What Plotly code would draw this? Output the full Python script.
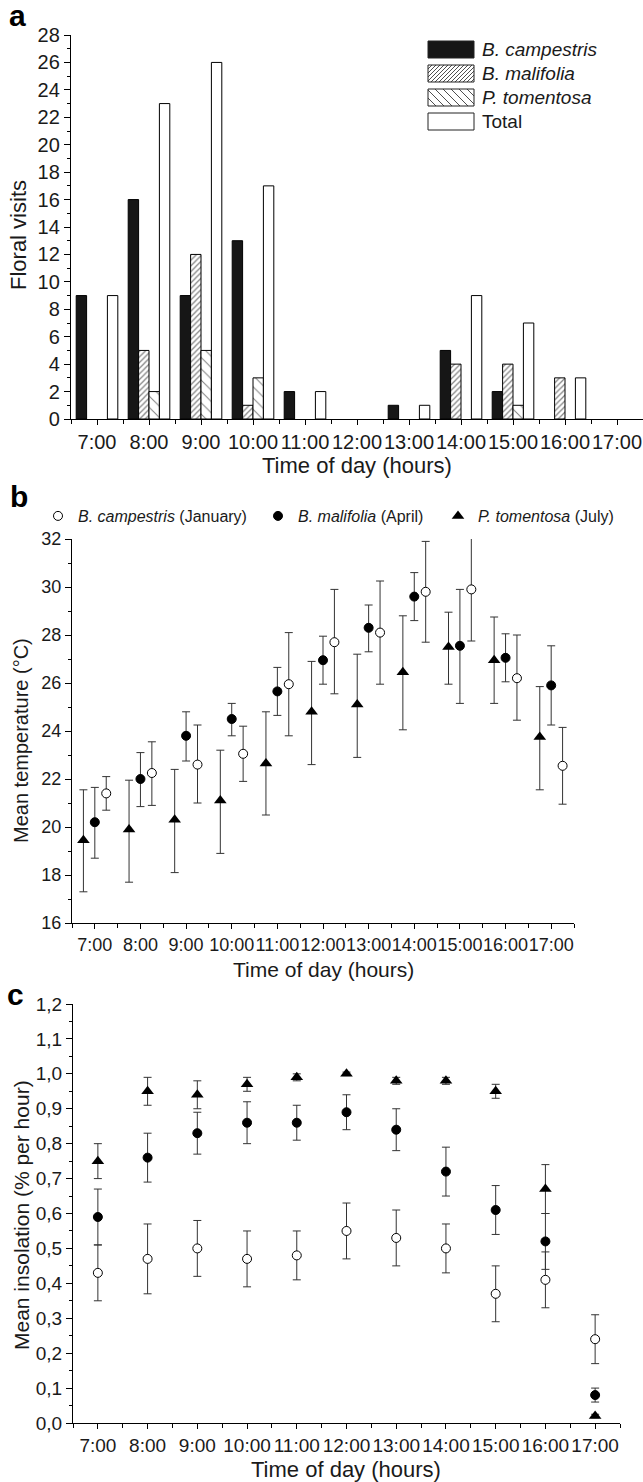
import plotly.graph_objects as go
from plotly.subplots import make_subplots

FIG_W, FIG_H = 643, 1482
FONT = "Liberation Sans, Arial, sans-serif"

hours = list(range(7, 18))
hour_labels = [f"{h}:00" for h in hours]

# a: floral visits per hour
campestris_visits = [9, 16, 9, 13, 2, 0, 1, 5, 2, 0, 0]
malifolia_visits = [0, 5, 12, 1, 0, 0, 0, 4, 4, 3, 0]
tomentosa_visits = [0, 2, 5, 3, 0, 0, 0, 0, 1, 0, 0]
total_visits = [9, 23, 26, 17, 2, 0, 1, 9, 7, 3, 0]

# b: mean temperature (upper / lower ends of the bars)
campestris_temp = [21.4, 22.25, 22.6, 23.05, 25.95, 27.7, 28.1, 29.8, 29.9, 26.2, 22.55]
campestris_temp_hi = [22.1, 23.55, 24.25, 24.2, 28.1, 29.9, 30.25, 31.9, 32.05, 28.0, 24.15]
campestris_temp_lo = [20.7, 20.9, 21.0, 21.9, 23.8, 25.55, 25.95, 27.7, 27.75, 24.45, 20.95]

malifolia_temp = [20.2, 22.0, 23.8, 24.5, 25.65, 26.95, 28.3, 29.6, 27.55, 27.05, 25.9]
malifolia_temp_hi = [21.65, 23.1, 24.8, 25.15, 26.65, 27.95, 29.25, 30.6, 29.9, 28.05, 27.55]
malifolia_temp_lo = [18.7, 20.85, 22.75, 23.8, 24.65, 25.95, 27.3, 28.6, 25.15, 26.05, 24.25]

tomentosa_temp = [19.45, 19.9, 20.3, 21.1, 22.65, 24.8, 25.1, 26.45, 27.5, 26.95, 23.75]
tomentosa_temp_hi = [21.55, 21.95, 22.4, 23.2, 24.8, 26.9, 27.2, 28.8, 28.95, 28.75, 25.85]
tomentosa_temp_lo = [17.3, 17.7, 18.1, 18.9, 20.5, 22.6, 22.9, 24.05, 25.95, 25.15, 21.55]

# c: mean insolation
campestris_ins = [0.43, 0.47, 0.50, 0.47, 0.48, 0.55, 0.53, 0.50, 0.37, 0.41, 0.24]
campestris_ins_err = [0.08, 0.10, 0.08, 0.08, 0.07, 0.08, 0.08, 0.07, 0.08, 0.08, 0.07]
malifolia_ins = [0.59, 0.76, 0.83, 0.86, 0.86, 0.89, 0.84, 0.72, 0.61, 0.52, 0.08]
malifolia_ins_err = [0.08, 0.07, 0.06, 0.06, 0.05, 0.05, 0.06, 0.07, 0.07, 0.08, 0.02]
tomentosa_ins = [0.75, 0.95, 0.94, 0.97, 0.99, 1.00, 0.98, 0.98, 0.95, 0.67, 0.02]
tomentosa_ins_err = [0.05, 0.04, 0.04, 0.02, 0.01, 0.005, 0.01, 0.01, 0.02, 0.07, 0.005]


def px_x(x):
    return x / FIG_W


def px_y(y):
    return 1 - y / FIG_H


def _nonzero(values):
    # empty hours get no bar at all (avoids outline stubs on the axis)
    return [v if v else None for v in values]


def _err(values, hi, lo):
    return dict(type="data", symmetric=False,
                array=[h - v for v, h in zip(values, hi)],
                arrayminus=[v - l for v, l in zip(values, lo)],
                color="#333333", thickness=1, width=4)


def _sym_err(err):
    return dict(type="data", array=err, color="#333333", thickness=1, width=4)


def _hatch_path(x0, y0, x1, y1, spacing, direction):
    # diagonal hatch lines inside a pixel box, returned as a paper-coord svg path
    parts = []
    if direction == "/":
        c = x0 + y0 + spacing
        while c < x1 + y1:
            xa, xb = max(x0, c - y1), min(x1, c - y0)
            parts.append(f"M{px_x(xa)},{px_y(c - xa)} L{px_x(xb)},{px_y(c - xb)}")
            c += spacing
    else:
        c = x0 - y1 + spacing
        while c < x1 - y0:
            xa, xb = max(x0, c + y0), min(x1, c + y1)
            parts.append(f"M{px_x(xa)},{px_y(xa - c)} L{px_x(xb)},{px_y(xb - c)}")
            c += spacing
    return " ".join(parts)


MARKERS = {
    "campestris": dict(symbol="circle", size=9, color="white", line=dict(color="black", width=1)),
    "malifolia": dict(symbol="circle", size=9, color="black", line=dict(color="black", width=1)),
    "tomentosa": dict(symbol="triangle-up", size=11, color="black", line=dict(color="black", width=0)),
}

fig = make_subplots(rows=3, cols=1)

# ---- a: bars
bar_line = dict(color="black", width=1)
fig.add_trace(go.Bar(x=hours, y=_nonzero(campestris_visits), name="B. campestris",
                     marker=dict(color="#161616", line=bar_line), showlegend=False), row=1, col=1)
fig.add_trace(go.Bar(x=hours, y=_nonzero(malifolia_visits), name="B. malifolia",
                     marker=dict(color="white", line=bar_line,
                                 pattern=dict(shape="/", fgcolor="black", bgcolor="white",
                                              size=4, solidity=0.3)),
                     showlegend=False), row=1, col=1)
fig.add_trace(go.Bar(x=hours, y=_nonzero(tomentosa_visits), name="P. tomentosa",
                     marker=dict(color="white", line=bar_line,
                                 pattern=dict(shape="\\", fgcolor="black", bgcolor="white",
                                              size=8, solidity=0.12)),
                     showlegend=False), row=1, col=1)
fig.add_trace(go.Bar(x=hours, y=_nonzero(total_visits), name="Total",
                     marker=dict(color="white", line=bar_line), showlegend=False), row=1, col=1)

# legend of panel a, drawn as wide swatches like the original
legend_a = [
    ("<i>B. campestris</i>", "#161616", None, 0),
    ("<i>B. malifolia</i>", "white", "/", 4),
    ("<i>P. tomentosa</i>", "white", "\\", 8),
    ("Total", "white", None, 0),
]
for row, (label, fill, hatch, spacing) in enumerate(legend_a):
    cy = 49.5 + 24 * row
    bx0, bx1, by0, by1 = 428, 474, cy - 8.5, cy + 8.5
    fig.add_shape(type="rect", xref="paper", yref="paper",
                  x0=px_x(bx0), x1=px_x(bx1), y0=px_y(by1), y1=px_y(by0),
                  fillcolor=fill, line=dict(color="#222222", width=1))
    if hatch:
        fig.add_shape(type="path", xref="paper", yref="paper",
                      path=_hatch_path(bx0, by0, bx1, by1, spacing, hatch),
                      line=dict(color="#222222", width=0.8))
    fig.add_annotation(text=label, x=px_x(480), y=px_y(cy), xref="paper", yref="paper",
                       showarrow=False, xanchor="left", yanchor="middle",
                       font=dict(size=19, color="#1a1a1a", family=FONT))

# ---- b: temperature, points offset around each hour
temp_series = [
    ("<i>B. campestris</i> (January)", "campestris", 0.25, campestris_temp, campestris_temp_hi, campestris_temp_lo, "legend2", 38),
    ("<i>B. malifolia</i> (April)", "malifolia", 0.0, malifolia_temp, malifolia_temp_hi, malifolia_temp_lo, "legend3", 258),
    ("<i>P. tomentosa</i> (July)", "tomentosa", -0.25, tomentosa_temp, tomentosa_temp_hi, tomentosa_temp_lo, "legend4", 438),
]
legend_layout = {}
for name, key, offset, vals, hi, lo, leg, leg_x in temp_series:
    fig.add_trace(go.Scatter(x=[h + offset for h in hours], y=vals, mode="markers", name=name,
                             marker=MARKERS[key], error_y=_err(vals, hi, lo), legend=leg),
                  row=2, col=1)
    legend_layout[leg] = dict(x=px_x(leg_x), y=px_y(516), xanchor="left", yanchor="middle",
                              orientation="h", font=dict(size=16), itemwidth=30,
                              bgcolor="rgba(0,0,0,0)")

# ---- c: insolation
ins_series = [
    ("tomentosa", tomentosa_ins, tomentosa_ins_err),
    ("malifolia", malifolia_ins, malifolia_ins_err),
    ("campestris", campestris_ins, campestris_ins_err),
]
for key, vals, err in ins_series:
    fig.add_trace(go.Scatter(x=hours, y=vals, mode="markers", marker=MARKERS[key],
                             error_y=_sym_err(err), showlegend=False), row=3, col=1)

# ---- axes
panels = [
    # x0, x1, ytop, ybottom, yrange, ydtick, tick font
    (71, 643, 35, 419, [0, 28], 2, 20),
    (72, 574, 539, 923, [16, 32], 2, 18),
    (73, 620, 1004, 1423, [0, 1.2], 0.1, 19),
]
for i, (x0, x1, yt, yb, yr, ydt, tfs) in enumerate(panels, start=1):
    fig.update_xaxes(row=i, col=1, domain=[px_x(x0), px_x(x1)], range=[6.5, 17.5],
                     tickmode="array", tickvals=hours, ticktext=hour_labels, tickangle=0,
                     ticks="outside", ticklen=5, tickwidth=1, tickcolor="black",
                     minor=dict(tickmode="array", tickvals=[h - 0.5 for h in hours] + [17.5],
                                ticks="outside", ticklen=4, tickwidth=1, tickcolor="black"),
                     showline=True, linecolor="black", linewidth=1.3, showgrid=False, zeroline=False,
                     automargin=False, tickfont=dict(size=tfs, color="#1a1a1a"))
    fig.update_yaxes(row=i, col=1, domain=[px_y(yb), px_y(yt)], range=yr,
                     tick0=0, dtick=ydt, ticks="outside", ticklen=6, tickwidth=1, tickcolor="black",
                     minor=dict(dtick=ydt / 2, ticks="outside", ticklen=3, tickwidth=1, tickcolor="black"),
                     showline=True, linecolor="black", linewidth=1.3, showgrid=False, zeroline=False,
                     automargin=False, tickfont=dict(size=tfs, color="#1a1a1a"))
fig.update_yaxes(row=3, col=1, tickformat=".1f")

# ---- axis titles and panel letters
annotations = [
    dict(text="Time of day (hours)", x=px_x(357), y=px_y(466), size=22, angle=0),
    dict(text="Floral visits", x=px_x(18), y=px_y(235), size=22, angle=-90),
    dict(text="Time of day (hours)", x=px_x(323), y=px_y(970), size=21, angle=0),
    dict(text="Mean temperature (°C)", x=px_x(21), y=px_y(741), size=20, angle=-90),
    dict(text="Time of day (hours)", x=px_x(346), y=px_y(1469), size=22, angle=0),
    dict(text="Mean insolation (% per hour)", x=px_x(21), y=px_y(1215), size=21, angle=-90),
]
for a in annotations:
    fig.add_annotation(text=a["text"], x=a["x"], y=a["y"], xref="paper", yref="paper",
                       showarrow=False, textangle=a["angle"], xanchor="center", yanchor="middle",
                       font=dict(size=a["size"], color="#1a1a1a", family=FONT))
for letter, lx, ly in [("a", 17, 15), ("b", 19, 496), ("c", 15, 994)]:
    fig.add_annotation(text=f"<b>{letter}</b>", x=px_x(lx), y=px_y(ly), xref="paper", yref="paper",
                       showarrow=False, xanchor="center", yanchor="middle",
                       font=dict(size=30, color="black", family=FONT))

fig.update_layout(
    width=FIG_W,
    height=FIG_H,
    margin=dict(l=0, r=0, t=0, b=0, autoexpand=False),
    paper_bgcolor="white",
    plot_bgcolor="white",
    font=dict(family=FONT, color="#1a1a1a"),
    separators=",.",
    barmode="group",
    bargap=0.2,
    bargroupgap=0,
    **legend_layout,
)

# the page's default body margin would push the fixed-size figure off the window
fig.write_html("out.html", config={"displayModeBar": False},
               post_script="document.body.style.margin = '0';")
